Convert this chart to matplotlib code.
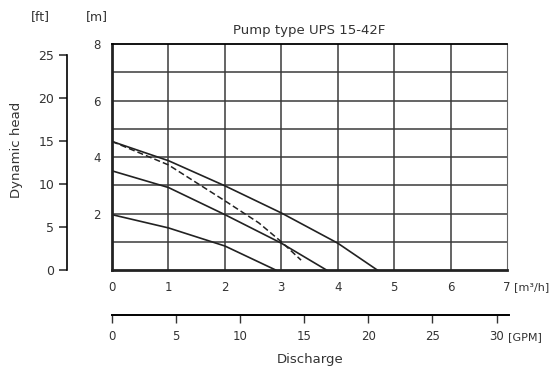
import matplotlib.pyplot as plt

# Pump curve UPS 15-42F, read from the scanned sheet
flow_3 = [0, 1, 2, 3, 4, 4.7]
head_3 = [4.55, 3.87, 2.98, 2.02, 0.95, 0]
flow_2 = [0, 1, 2, 3, 3.8]
head_2 = [3.51, 2.92, 1.96, 0.95, 0]
flow_1 = [0, 1, 2, 2.9]
head_1 = [1.96, 1.49, 0.85, 0]
flow_d = [0, 1, 2, 2.6, 3, 3.35]
head_d = [4.55, 3.72, 2.45, 1.67, 1.0, 0.35]

m_ticks = [2, 4, 6, 8]
q_ticks = [0, 1, 2, 3, 4, 5, 6, 7]
ft_ticks = [0, 5, 10, 15, 20, 25]
gpm_ticks = [0, 5, 10, 15, 20, 25, 30]

M_TO_FT = 1 / 0.3048
M3H_TO_GPM = 4.4029
TXT = '#333333'

fig = plt.figure(figsize=(5.54, 3.67), dpi=100)
ax = fig.add_axes([0.2022, 0.2643, 0.713, 0.6158])
ax.set_xlim(0, 7)
ax.set_ylim(0, 8)

# grid every 1 unit
for x in range(1, 7):
    ax.axvline(x, color='#3a3a3a', lw=1.1, zorder=1)
for y in range(1, 8):
    ax.axhline(y, color='#3a3a3a', lw=1.1, zorder=1)

ax.plot(flow_3, head_3, color='#222222', lw=1.2, zorder=3)
ax.plot(flow_2, head_2, color='#222222', lw=1.2, zorder=3)
ax.plot(flow_1, head_1, color='#222222', lw=1.2, zorder=3)
ax.plot(flow_d, head_d, color='#222222', lw=1.1, ls=(0, (4, 2)), zorder=3)

for s in ['left', 'bottom']:
    ax.spines[s].set_linewidth(2.0)
    ax.spines[s].set_color('#222222')
ax.spines['top'].set_linewidth(1.3)
ax.spines['right'].set_linewidth(0.8)
ax.spines['right'].set_color('#666666')

ax.set_yticks(m_ticks)
ax.set_xticks(q_ticks)
ax.tick_params(axis='both', length=0, labelsize=8.5, colors=TXT)
ax.tick_params(axis='y', pad=8)
ax.tick_params(axis='x', pad=8)

ax.set_title('Pump type UPS 15-42F', fontsize=9.5, color=TXT, pad=7)

# feet scale on the far left
secy = ax.secondary_yaxis(-0.114, functions=(lambda m: m * M_TO_FT, lambda f: f / M_TO_FT))
secy.set_yticks(ft_ticks)
secy.spines['left'].set_bounds(0, 25)
secy.spines['left'].set_linewidth(1.2)
secy.tick_params(length=6, width=1.2, labelsize=9, colors=TXT, pad=3)

# GPM scale below
secx = ax.secondary_xaxis(-0.2, functions=(lambda q: q * M3H_TO_GPM, lambda g: g / M3H_TO_GPM))
secx.set_xticks(gpm_ticks)
secx.spines['bottom'].set_bounds(0, 31)
secx.spines['bottom'].set_linewidth(1.4)
secx.tick_params(length=6, width=1.0, direction='out', labelsize=8.5, colors=TXT, pad=5)

ax.annotate('[m\u00b3/h]', xy=(7.0, -0.075), xycoords=ax.get_xaxis_transform(),
            xytext=(5, 0), textcoords='offset points',
            ha='left', va='center', fontsize=8, color=TXT)
ax.annotate('[GPM]', xy=(7.0, -0.296), xycoords=ax.get_xaxis_transform(),
            xytext=(1, 0), textcoords='offset points',
            ha='left', va='center', fontsize=8, color=TXT)

fig.text(310 / 554, 1 - 360 / 367, 'Discharge', ha='center', va='center', fontsize=9.5, color=TXT)
fig.text(17 / 554, 1 - 150 / 367, 'Dynamic head', rotation=90, ha='center', va='center',
         fontsize=9.5, color=TXT)
fig.text(40 / 554, 1 - 17 / 367, '[ft]', ha='center', va='center', fontsize=9, color=TXT)
fig.text(97 / 554, 1 - 17 / 367, '[m]', ha='center', va='center', fontsize=9, color=TXT)

fig.savefig('out.png', dpi=100)
